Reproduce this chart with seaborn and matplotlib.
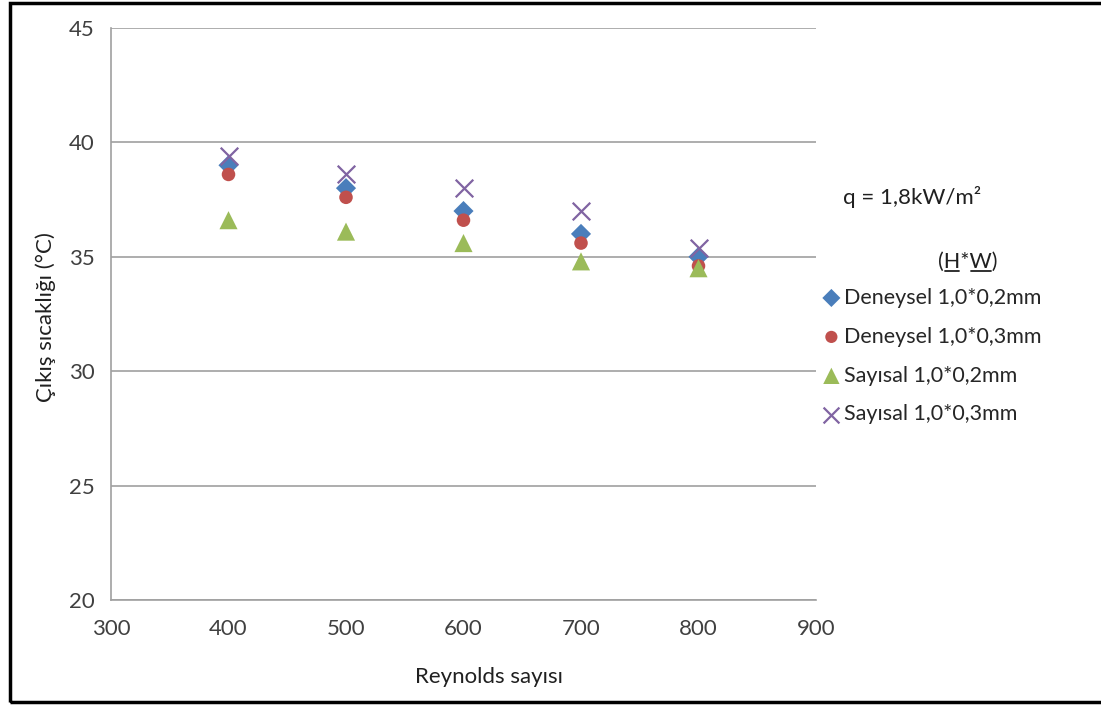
import matplotlib
matplotlib.use("Agg")
import matplotlib.pyplot as plt
import seaborn as sns
import pandas as pd
from matplotlib.patches import Rectangle
from matplotlib.lines import Line2D

# Outlet temperature vs. Reynolds number for two channel geometries
reynolds = [400, 500, 600, 700, 800]
deneysel_02 = [39.0, 38.0, 37.0, 36.0, 35.0]
deneysel_03 = [38.6, 37.6, 36.6, 35.6, 34.6]
sayisal_02 = [36.6, 36.1, 35.6, 34.8, 34.5]
sayisal_03 = [39.4, 38.6, 38.0, 37.0, 35.4]

series_names = ["Deneysel 1,0*0,2mm", "Deneysel 1,0*0,3mm",
                "Sayısal 1,0*0,2mm", "Sayısal 1,0*0,3mm"]
x_ticks = [300, 400, 500, 600, 700, 800, 900]
y_ticks = [20, 25, 30, 35, 40, 45]

sns.set_theme(style="white")
plt.rcParams["font.family"] = ["Lato", "DejaVu Sans"]

W, H = 1101, 705
fig = plt.figure(figsize=(W / 100, H / 100), dpi=100)
ax = fig.add_axes([111 / W, 1 - 600 / H, (816 - 111) / W, (600 - 28) / H])

styles = [
    dict(marker="D", color="#4A7EBB", s=105, edgecolor="none"),
    dict(marker="o", color="#C0504D", s=95, edgecolor="none"),
    dict(marker="^", color="#9BBB59", s=170, edgecolor="none"),
    dict(marker="x", color="#8064A2", s=160, linewidth=1.6),
]
values = [deneysel_02, deneysel_03, sayisal_02, sayisal_03]

for name, vals, st in zip(series_names, values, styles):
    df = pd.DataFrame({"Re": reynolds, "T": vals})
    sns.scatterplot(data=df, x="Re", y="T", ax=ax, label=name, zorder=3, **st)

ax.set_xlim(300, 900)
ax.set_ylim(20, 45)
ax.set_xticks(x_ticks)
ax.set_yticks(y_ticks)
ax.tick_params(axis="both", labelsize=16, colors="#404040", length=7,
               width=1, direction="out", color="#A0A0A0", pad=5)
ax.tick_params(axis="x", pad=7)
ax.yaxis.grid(True, color="#A0A0A0", linewidth=1.2)
ax.xaxis.grid(False)
for side in ["top", "right"]:
    ax.spines[side].set_visible(False)
for side in ["left", "bottom"]:
    ax.spines[side].set_color("#A0A0A0")
    ax.spines[side].set_linewidth(1.2)

ax.set_xlabel("Reynolds sayısı", fontsize=16, color="#202020")
ax.set_ylabel("Çıkış sıcaklığı (°C)", fontsize=16, color="#202020")
ax.xaxis.set_label_coords((489 - 111) / 705, (600 - 677) / 572)
ax.xaxis.label.set_va("center")
ax.yaxis.set_label_coords((46 - 111) / 705, (600 - 317) / 572)
ax.yaxis.label.set_va("center")

handles, labels = ax.get_legend_handles_labels()
ax.legend(handles, labels, loc="upper left", bbox_to_anchor=(812 / W, 1 - 279 / H),
          bbox_transform=fig.transFigure, frameon=False, fontsize=15.5,
          handletextpad=0.1, labelspacing=0.88, markerscale=0.9,
          handlelength=1.0, borderaxespad=0)

fig.text(843 / W, 1 - 197 / H, "q = 1,8kW/m²", fontsize=16,
         color="#202020", va="center", ha="left")

# "(H*W)" heading with underlined H and W
hw_text = "(H*W)"
hw_x, hw_y = 938 / W, 1 - 268 / H
hw_size = 15.5
fig.text(hw_x, hw_y, hw_text, fontsize=hw_size, color="#202020",
         va="baseline", ha="left")
renderer = fig.canvas.get_renderer()


def prefix_width(s):
    t = fig.text(0, 0, s, fontsize=hw_size)
    w = t.get_window_extent(renderer).width
    t.remove()
    return w


x0 = hw_x * W
for idx in (1, 3):
    a = x0 + prefix_width(hw_text[:idx])
    b = x0 + prefix_width(hw_text[:idx + 1])
    y_line = hw_y * H - 3
    fig.lines.append(Line2D([(a + 1) / W, (b - 1) / W], [y_line / H, y_line / H],
                            transform=fig.transFigure, color="#202020", linewidth=1.3))

# Outer chart frame
fig.patches.append(Rectangle((10 / W, 3 / H), 1.2, 1 - 6 / H,
                             transform=fig.transFigure, fill=False,
                             edgecolor="black", linewidth=2.5))

fig.savefig("out.png", dpi=100)
